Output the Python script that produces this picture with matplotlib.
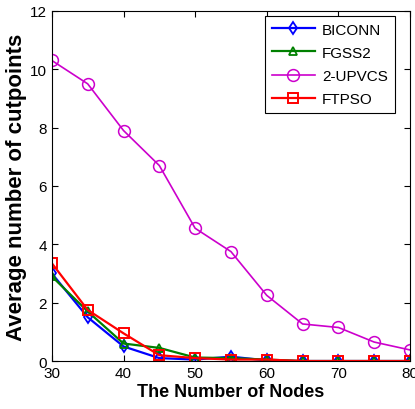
import numpy as np
import matplotlib.pyplot as plt

plt.rcParams['font.family'] = ['Liberation Sans', 'DejaVu Sans']

nodes = [30, 35, 40, 45, 50, 55, 60, 65, 70, 75, 80]
biconn = [3.0, 1.5, 0.5, 0.1, 0.05, 0.15, 0.02, 0.0, 0.0, 0.0, 0.0]
fgss2 = [2.9, 1.7, 0.6, 0.45, 0.12, 0.1, 0.05, 0.0, 0.0, 0.0, 0.0]
upvcs = [10.3, 9.5, 7.9, 6.7, 4.55, 3.75, 2.25, 1.27, 1.15, 0.65, 0.38]
ftpso = [3.35, 1.75, 0.95, 0.2, 0.1, 0.05, 0.05, 0.0, 0.0, 0.0, 0.0]

fig = plt.figure(figsize=(4.15, 4.1), dpi=100)
ax = fig.add_axes([0.125, 0.117, 0.863, 0.854])

ax.plot(nodes, biconn, color='#0000ff', marker='d', markersize=6, markerfacecolor='none',
        markeredgewidth=1.3, linewidth=1.6, label='BICONN')
ax.plot(nodes, fgss2, color='#008000', marker='^', markersize=6, markerfacecolor='none',
        markeredgewidth=1.3, linewidth=1.6, label='FGSS2')
ax.plot(nodes, upvcs, color='#cc00cc', marker='o', markersize=8.5, markerfacecolor='none',
        markeredgewidth=1.1, linewidth=1.2, label='2-UPVCS')
ax.plot(nodes, ftpso, color='#ff0000', marker='s', markersize=7, markerfacecolor='none',
        markeredgewidth=1.4, linewidth=1.6, label='FTPSO')

ax.set_xlim(30, 80)
ax.set_ylim(0, 12)
ax.set_xticks([30, 40, 50, 60, 70, 80])
ax.set_yticks([0, 2, 4, 6, 8, 10, 12])
ax.tick_params(direction='in', top=True, right=True, labelsize=11, length=4)
for s in ax.spines.values():
    s.set_linewidth(0.8)

ax.set_xlabel('The Number of Nodes', fontsize=13, fontweight='bold', labelpad=2)
ax.set_ylabel('Average number of cutpoints', fontsize=16, fontweight='bold', labelpad=2)

leg = ax.legend(loc='upper right', bbox_to_anchor=(0.958, 0.986), fontsize=11,
                fancybox=False, edgecolor='black', framealpha=1, handlelength=2.8,
                borderpad=0.45, labelspacing=0.6, handletextpad=0.5, borderaxespad=0)
leg.get_frame().set_linewidth(0.8)

fig.savefig('out.png', dpi=100)
